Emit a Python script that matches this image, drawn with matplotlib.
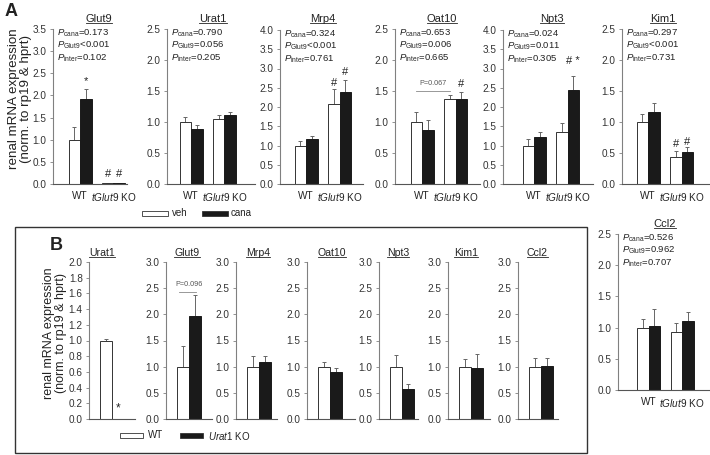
import matplotlib
matplotlib.use('Agg')
import matplotlib.pyplot as plt
from matplotlib.patches import Rectangle
from matplotlib.lines import Line2D
from matplotlib.ticker import FormatStrFormatter
import numpy as np

plt.rcParams['font.family'] = 'Liberation Sans'
plt.rcParams['mathtext.fontset'] = 'custom'
plt.rcParams['mathtext.rm'] = 'Liberation Sans'
plt.rcParams['mathtext.it'] = 'Liberation Sans:italic'
plt.rcParams['mathtext.bf'] = 'Liberation Sans:bold'

# ---- panel A: veh / cana in WT and tGlut9 KO ----
a_genes = ['Glut9', 'Urat1', 'Mrp4', 'Oat10', 'Npt3', 'Kim1', 'Ccl2']
a_groups = ['WT', r'$\it{tGlut9}$ KO']
a_veh = [[1.0, 0.02], [1.0, 1.05], [1.0, 2.08], [1.0, 1.37], [1.0, 1.34], [1.0, 0.43], [1.0, 0.93]]
a_veh_err = [[0.28, 0.0], [0.08, 0.07], [0.12, 0.38], [0.16, 0.06], [0.18, 0.25], [0.13, 0.10], [0.13, 0.14]]
a_cana = [[1.92, 0.02], [0.89, 1.11], [1.17, 2.40], [0.87, 1.37], [1.21, 2.43], [1.16, 0.51], [1.02, 1.10]]
a_cana_err = [[0.23, 0.0], [0.06, 0.05], [0.08, 0.30], [0.16, 0.11], [0.13, 0.38], [0.15, 0.08], [0.28, 0.15]]
a_ymax = [3.5, 2.5, 4.0, 2.5, 4.0, 2.5, 2.5]
a_p_cana = ['=0.173', '=0.790', '=0.324', '=0.653', '=0.024', '=0.297', '=0.526']
a_p_glut9 = ['<0.001', '=0.056', '<0.001', '=0.006', '=0.011', '<0.001', '=0.962']
a_p_inter = ['=0.102', '=0.205', '=0.761', '=0.665', '=0.305', '=0.731', '=0.707']
# (gene, group, series 0=veh 1=cana, label, y)
a_marks = [(0, 0, 1, '*', 2.32), (0, 1, 0, '#', 0.23), (0, 1, 1, '#', 0.23),
           (2, 1, 0, '#', 2.62), (2, 1, 1, '#', 2.9), (3, 1, 1, '#', 1.62),
           (4, 1, 1, '# *', 3.2), (5, 1, 0, '#', 0.65), (5, 1, 1, '#', 0.68)]

# ---- panel B: WT vs Urat1 KO ----
b_genes = ['Urat1', 'Glut9', 'Mrp4', 'Oat10', 'Npt3', 'Kim1', 'Ccl2']
b_wt = [1.0, 1.0, 1.0, 1.0, 1.0, 1.0, 1.0]
b_wt_err = [0.02, 0.40, 0.21, 0.09, 0.23, 0.15, 0.17]
b_ko = [0.005, 1.96, 1.08, 0.90, 0.58, 0.98, 1.02]
b_ko_err = [0.0, 0.40, 0.12, 0.07, 0.08, 0.26, 0.15]
b_ymax = [2.0, 3.0, 3.0, 3.0, 3.0, 3.0, 3.0]
b_step = [0.2, 0.5, 0.5, 0.5, 0.5, 0.5, 0.5]

W, H = 710, 455
fig = plt.figure(figsize=(W / 100, H / 100), dpi=100)
TXT = '#222222'
SP = '#808080'


def add_ax(x0, x1, ytop, ybot):
    return fig.add_axes([x0 / W, 1 - ybot / H, (x1 - x0) / W, (ybot - ytop) / H])


def style(ax, ymax, step):
    ax.spines['top'].set_visible(False)
    ax.spines['right'].set_visible(False)
    ax.spines['left'].set_color(SP)
    ax.spines['bottom'].set_color('#555555')
    ax.spines['left'].set_linewidth(0.8)
    ax.spines['bottom'].set_linewidth(0.8)
    ax.set_ylim(0, ymax)
    ax.set_yticks(np.arange(0, ymax + 1e-9, step))
    ax.yaxis.set_major_formatter(FormatStrFormatter('%.1f'))
    ax.tick_params(axis='y', direction='out', length=2.5, width=0.6, color=SP,
                   labelsize=7.2, labelcolor='#333333', pad=2)
    ax.tick_params(axis='x', length=0, labelsize=7.2, labelcolor=TXT, pad=5)
    ax.patch.set_visible(False)


def ftext(x, y, s, **kw):
    return fig.text(x / W, 1 - y / H, s, color=TXT, **kw)


titles = []

# panel A layout (pixels): spine x, axis end x, top y, zero y, WT centre offset, title x
a_box = [(53, 127, 29, 184, 27, 99), (167, 255, 29, 184, 24, 213), (280, 363, 30, 184, 26, 323),
         (395, 480, 29, 184, 27, 442), (503, 593, 30, 184, 31, 552), (622, 710, 29, 184, 26, 663),
         (618, 709, 234, 390, 30.5, 665)]
GS = 33.5
BW = 11.5 / GS
for i, g in enumerate(a_genes):
    x0, x1, yt, yb, c, tx = a_box[i]
    ax = add_ax(x0, x1, yt, yb)
    style(ax, a_ymax[i], 0.5)
    ax.set_xlim(-c / GS, (x1 - x0 - c) / GS)
    x = np.arange(2)
    ax.bar(x - BW / 2, a_veh[i], BW, color='white', edgecolor='#333333', linewidth=0.7, zorder=2)
    ax.bar(x + BW / 2, a_cana[i], BW, color='#1a1a1a', edgecolor='#1a1a1a', linewidth=0.7, zorder=2)
    ax.errorbar(x - BW / 2, a_veh[i], yerr=[np.zeros(2), a_veh_err[i]], fmt='none',
                ecolor='#666666', elinewidth=0.7, capsize=1.6, capthick=0.7, zorder=1)
    ax.errorbar(x + BW / 2, a_cana[i], yerr=[np.zeros(2), a_cana_err[i]], fmt='none',
                ecolor='#666666', elinewidth=0.7, capsize=1.6, capthick=0.7, zorder=1)
    ax.set_xticks(x)
    ax.set_xticklabels(a_groups)
    ptxt = [r'$\it{P}_{\rm{cana}}$' + a_p_cana[i],
            r'$\it{P}_{\rm{Glut9}}$' + a_p_glut9[i],
            r'$\it{P}_{\rm{inter}}$' + a_p_inter[i]]
    for k, s in enumerate(ptxt):
        ax.annotate(s, xy=(0, 1), xycoords='axes fraction', xytext=(4, -4 - 12.5 * k),
                    textcoords='offset pixels', ha='left', va='center', fontsize=6.8, color=TXT)
    for gi, grp, ser, lab, yv in a_marks:
        if gi == i:
            xm = grp + (BW / 2 if ser else -BW / 2)
            ax.text(xm, yv, lab, ha='center', va='center', fontsize=8, color=TXT)
    if g == 'Oat10':
        ax.plot([0 - BW / 2, 1 - BW / 2], [1.5, 1.5], color='#888888', lw=0.6)
        ax.text(0.5 - BW / 2, 1.62, 'P=0.067', ha='center', va='center', fontsize=5.2, color='#555555')
    ty = 19 if yt < 100 else 224
    titles.append(ftext(tx, ty, g, ha='center', va='center', fontsize=8))

# panel B layout: spine x, axis end x, title x
b_box = [(89, 135, 102), (166, 212, 187), (236, 277, 258), (307, 355, 332),
         (379, 418, 398), (448, 490, 466), (518, 558, 537)]
BU = 11.7
for i, g in enumerate(b_genes):
    x0, x1, tx = b_box[i]
    ax = add_ax(x0, x1, 262, 419)
    style(ax, b_ymax[i], b_step[i])
    ax.set_xlim(-17 / BU, (x1 - x0 - 17) / BU)
    ax.bar([0], [b_wt[i]], 1.0, color='white', edgecolor='#333333', linewidth=0.7, zorder=2)
    ax.bar([1], [b_ko[i]], 1.0, color='#1a1a1a', edgecolor='#1a1a1a', linewidth=0.7, zorder=2)
    ax.errorbar([0, 1], [b_wt[i], b_ko[i]], yerr=[[0, 0], [b_wt_err[i], b_ko_err[i]]], fmt='none',
                ecolor='#666666', elinewidth=0.7, capsize=1.6, capthick=0.7, zorder=1)
    ax.set_xticks([])
    if g == 'Urat1':
        ax.text(1, 0.14, '*', ha='center', va='center', fontsize=8.5, color=TXT)
    if g == 'Glut9':
        ax.plot([-0.3, 1.1], [2.43, 2.43], color='#888888', lw=0.6)
        ax.text(0.5, 2.57, 'P=0.096', ha='center', va='center', fontsize=5.2, color='#555555')
    titles.append(ftext(tx, 253, g, ha='center', va='center', fontsize=7.6))

# y labels and panel letters
ylab = 'renal mRNA expression\n(norm. to rp19 & hprt)'
ftext(20.5, 99, ylab, rotation=90, ha='center', va='center', fontsize=9.6, linespacing=1.0)
ftext(55, 333, ylab, rotation=90, ha='center', va='center', fontsize=9, linespacing=1.0)
ftext(11, 12, 'A', ha='center', va='center', fontsize=13, fontweight='bold')
ftext(56, 246, 'B', ha='center', va='center', fontsize=13, fontweight='bold')


def legend_box(x, y, w, h, fc):
    fig.add_artist(Rectangle((x / W, 1 - (y + h) / H), w / W, h / H, transform=fig.transFigure,
                             facecolor=fc, edgecolor='#333333', linewidth=0.6))


legend_box(142, 211, 26, 5, 'white')
ftext(172, 213.5, 'veh', ha='left', va='center', fontsize=7)
legend_box(202, 211, 26, 5, '#1a1a1a')
ftext(231, 213.5, 'cana', ha='left', va='center', fontsize=7)

legend_box(120, 433, 23, 5, 'white')
ftext(148, 435.5, 'WT', ha='left', va='center', fontsize=7)
legend_box(180, 433, 23, 5, '#1a1a1a')
ftext(208, 435.5, r'$\it{Urat1}$ KO', ha='left', va='center', fontsize=7)

# frame around panel B
fig.add_artist(Rectangle((15 / W, 1 - 453 / H), 572 / W, 226 / H, transform=fig.transFigure,
                         facecolor='none', edgecolor='#333333', linewidth=1.0))

# underline gene titles
fig.canvas.draw()
r = fig.canvas.get_renderer()
for t in titles:
    bb = t.get_window_extent(r)
    yl = (bb.y0 + 0.8) / H
    fig.add_artist(Line2D([bb.x0 / W, bb.x1 / W], [yl, yl], transform=fig.transFigure,
                          color=TXT, lw=0.6))

fig.savefig('out.png', dpi=100)
